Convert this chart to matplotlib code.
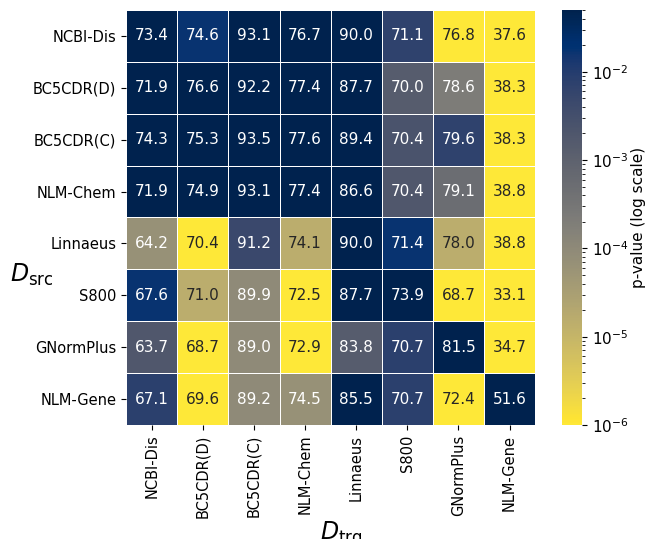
import numpy as np
import matplotlib
matplotlib.use("Agg")
import matplotlib.pyplot as plt
from matplotlib.colors import LogNorm

labels = ["NCBI-Dis", "BC5CDR(D)", "BC5CDR(C)", "NLM-Chem",
          "Linnaeus", "S800", "GNormPlus", "NLM-Gene"]

# scores shown in the cells (rows: source, cols: target)
scores = np.array([
    [73.4, 74.6, 93.1, 76.7, 90.0, 71.1, 76.8, 37.6],
    [71.9, 76.6, 92.2, 77.4, 87.7, 70.0, 78.6, 38.3],
    [74.3, 75.3, 93.5, 77.6, 89.4, 70.4, 79.6, 38.3],
    [71.9, 74.9, 93.1, 77.4, 86.6, 70.4, 79.1, 38.8],
    [64.2, 70.4, 91.2, 74.1, 90.0, 71.4, 78.0, 38.8],
    [67.6, 71.0, 89.9, 72.5, 87.7, 73.9, 68.7, 33.1],
    [63.7, 68.7, 89.0, 72.9, 83.8, 70.7, 81.5, 34.7],
    [67.1, 69.6, 89.2, 74.5, 85.5, 70.7, 72.4, 51.6],
])

# p-values (colour)
pvals = np.array([
    [5e-2, 1.7e-2, 5e-2, 5e-2, 5e-2, 7e-3, 1e-6, 1e-6],
    [5e-2, 5e-2, 5e-2, 5e-2, 5e-2, 1.4e-3, 2.2e-4, 1e-6],
    [5e-2, 5e-2, 5e-2, 5e-2, 5e-2, 2.4e-3, 7e-3, 1e-6],
    [5e-2, 5e-2, 5e-2, 5e-2, 5e-2, 1.9e-3, 5.4e-4, 1e-6],
    [6.8e-5, 1e-6, 4.7e-3, 1.5e-5, 5e-2, 1.7e-2, 1.5e-5, 1e-6],
    [1.7e-2, 1.5e-5, 1e-4, 1e-6, 5e-2, 5e-2, 1e-6, 1e-6],
    [1.9e-3, 1e-6, 1e-4, 1e-6, 1.4e-3, 8e-3, 5e-2, 1e-6],
    [8e-3, 1e-6, 1e-4, 6.8e-5, 5e-2, 8e-3, 1e-6, 5e-2],
])

fig = plt.figure(figsize=(6.47, 5.39), dpi=100)
ax = fig.add_axes([0.195, 0.2115, 0.632, 0.77])
cax = fig.add_axes([0.869, 0.2115, 0.031, 0.77])

cmap = plt.get_cmap("cividis_r")
norm = LogNorm(vmin=1e-6, vmax=5e-2)
mesh = ax.pcolormesh(pvals, cmap=cmap, norm=norm, edgecolors="white", linewidth=0.6)
ax.set_xlim(0, 8)
ax.set_ylim(8, 0)

def luminance(c):
    rgb = np.array(c[:3])
    rgb = np.where(rgb <= .03928, rgb / 12.92, ((rgb + .055) / 1.055) ** 2.4)
    return rgb.dot([.2126, .7152, .0722])

for i in range(8):
    for j in range(8):
        col = cmap(norm(pvals[i, j]))
        tc = ".15" if luminance(col) > .408 else "w"
        ax.text(j + 0.5, i + 0.5, f"{scores[i, j]:.1f}", ha="center", va="center",
                color=tc, fontsize=11)

ax.set_xticks(np.arange(8) + 0.5)
ax.set_xticklabels(labels, rotation=90)
ax.set_yticks(np.arange(8) + 0.5)
ax.set_yticklabels(labels)
ax.tick_params(labelsize=10.5)
for s in ax.spines.values():
    s.set_visible(False)

ax.set_ylabel(r"$D_{\mathrm{src}}$", fontsize=17, rotation=0)
ax.yaxis.set_label_coords(-0.23, 0.33)
ax.set_xlabel(r"$D_{\mathrm{trg}}$", fontsize=17)
ax.xaxis.set_label_coords(0.525, -0.228)

cb = fig.colorbar(mesh, cax=cax)
cb.outline.set_visible(False)
cb.set_label("p-value (log scale)", fontsize=11, labelpad=2)
cb.ax.tick_params(labelsize=11)

fig.savefig("out.png", dpi=100)
